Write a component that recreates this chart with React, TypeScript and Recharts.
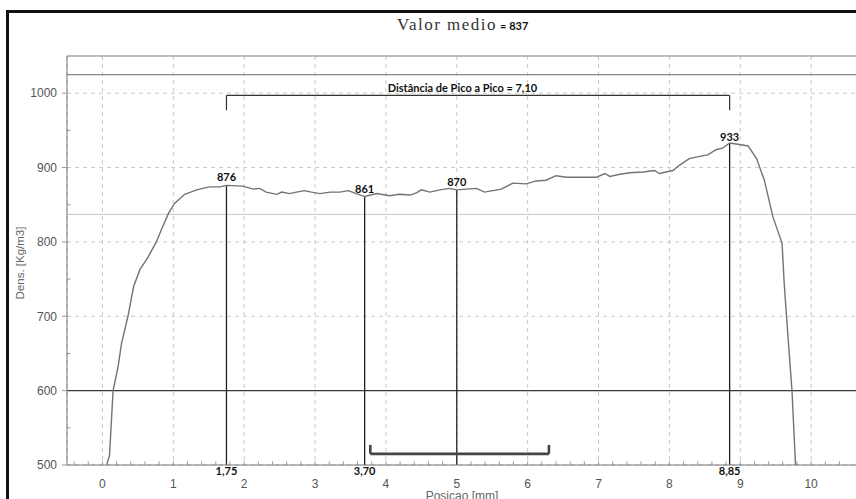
import { LineChart, Line, XAxis, YAxis, CartesianGrid, ReferenceLine, ReferenceDot } from 'recharts';

// density profile across the panel thickness
const POS = [
  0.06, 0.10, 0.15, 0.22, 0.27, 0.36, 0.44, 0.53, 0.64, 0.76, 0.83, 0.93, 1.02, 1.16, 1.33, 1.51, 1.66,
  1.75, 1.98, 2.13, 2.22, 2.31, 2.46, 2.53, 2.64, 2.74, 2.85, 2.95, 3.07, 3.21, 3.35, 3.47, 3.58,
  3.70, 3.87, 4.05, 4.19, 4.34, 4.43, 4.50, 4.62, 4.76, 4.90, 5.00, 5.14, 5.28, 5.39, 5.63, 5.79,
  5.98, 6.12, 6.26, 6.40, 6.55, 6.73, 6.97, 7.09, 7.16, 7.30, 7.44, 7.63, 7.79, 7.86, 8.05, 8.14,
  8.28, 8.43, 8.54, 8.66, 8.75, 8.85, 8.99, 9.11, 9.23, 9.34, 9.46, 9.59, 9.62, 9.67, 9.73, 9.78,
];
const DENS = [
  500, 513, 600, 632, 664, 700, 740, 763, 779, 800, 816, 838, 852, 864, 870, 874, 874,
  876, 875, 871, 872, 867, 864, 867, 865, 867, 869, 867, 865, 867, 867, 869, 865,
  861, 865, 862, 864, 863, 866, 870, 867, 870, 872, 870, 871, 872, 867, 871, 879,
  878, 882, 883, 889, 887, 887, 887, 892, 888, 891, 893, 894, 896, 892, 896, 903,
  912, 915, 917, 924, 926, 933, 931, 929, 912, 883, 834, 798, 744, 677, 600, 500,
];

const X_TICKS = [0, 1, 2, 3, 4, 5, 6, 7, 8, 9, 10];
const Y_TICKS = [500, 600, 700, 800, 900, 1000];
const X_MINOR = Array.from({ length: 55 }, (_, i) => Math.round((-0.4 + i * 0.2) * 10) / 10);
const Y_MINOR = [550, 650, 750, 850, 950];

const PEAK_POS = [1.75, 3.70, 5.00, 8.85];
const PEAK_VAL = [876, 861, 870, 933];
const PEAK_POS_LABEL = ['1,75', '3,70', '', '8,85'];

const MEAN = 837;
const PEAK_SPAN_LABEL = 'Distância de Pico a Pico = 7,10';
const SPAN_LEVEL = 997;
const SPAN_DROP = 977;
const LOW_BRACKET = [3.78, 6.30];
const LOW_LEVEL = 515;
const LOW_RISE = 527;

const data = POS.map((x, i) => ({ x, d: DENS[i] }));

const BOLD = { fontFamily: 'Lato, "Open Sans", sans-serif', fontWeight: 700, fill: '#111' };

export default function App() {
  return (
    <div style={{ position: 'fixed', left: 0, top: 0, width: 856, height: 499, overflow: 'hidden', background: '#fff', fontFamily: '"Liberation Sans", Arial, sans-serif' }}>
      {/* outer frame */}
      <div style={{ position: 'absolute', left: 6, top: 10, width: 900, height: 600, border: '3px solid #111' }} />

      <div style={{ position: 'absolute', left: 397, top: 15, fontFamily: '"Liberation Serif", serif', fontSize: 17, letterSpacing: 1.5, color: '#333', whiteSpace: 'nowrap' }}>
        Valor medio
        <span style={{ fontFamily: 'Lato, sans-serif', fontWeight: 700, fontSize: 11, letterSpacing: 0, color: '#111', marginLeft: 3 }}>= 837</span>
      </div>

      <div style={{ position: 'absolute', left: 20, top: 263, transform: 'translate(-50%, -50%) rotate(-90deg)', fontSize: 11.5, color: '#666', whiteSpace: 'nowrap' }}>
        Dens. [Kg/m3]
      </div>
      <div style={{ position: 'absolute', left: 462, top: 489, transform: 'translateX(-50%)', fontSize: 12, lineHeight: '14px', color: '#666', whiteSpace: 'nowrap' }}>
        Posicao [mm]
      </div>

      <div style={{ position: 'absolute', left: 0, top: 0 }}>
        <LineChart width={890} height={499} data={data} margin={{ top: 56, right: 8, left: 0, bottom: 0 }}>
          <CartesianGrid stroke="#c8c8c8" strokeDasharray="4 4" />
          <XAxis
            type="number" dataKey="x" domain={[-0.5, 11]} ticks={X_TICKS} allowDataOverflow
            height={34} tickLine={false} tickSize={6} tickMargin={8}
            axisLine={{ stroke: '#777' }} tick={{ fontSize: 12, fill: '#555' }}
          />
          <YAxis
            type="number" domain={[500, 1050]} ticks={Y_TICKS} allowDataOverflow
            width={67} tickSize={5} tickMargin={5}
            tickLine={{ stroke: '#999' }} axisLine={{ stroke: '#777' }} tick={{ fontSize: 12, fill: '#555' }}
          />

          <ReferenceLine y={1050} stroke="#888" strokeWidth={1.2} />
          <ReferenceLine y={1025} stroke="#888" strokeWidth={1.2} />
          <ReferenceLine y={600} stroke="#3a3a3a" strokeWidth={1.2} />
          <ReferenceLine y={MEAN} stroke="#c4c8d0" strokeWidth={1} />

          {X_MINOR.map(x => (
            <ReferenceLine key={'xm' + x} segment={[{ x, y: 500 }, { x, y: 505 }]} stroke="#999" />
          ))}
          {Y_MINOR.map(y => (
            <ReferenceLine key={'ym' + y} segment={[{ x: -0.5, y }, { x: -0.45, y }]} stroke="#999" />
          ))}

          {PEAK_POS.map((x, i) => (
            <ReferenceLine key={'pk' + x} segment={[{ x, y: 500 }, { x, y: PEAK_VAL[i] }]} stroke="#222" strokeWidth={1.3} />
          ))}

          {/* peak-to-peak bracket */}
          <ReferenceLine segment={[{ x: PEAK_POS[0], y: SPAN_LEVEL }, { x: PEAK_POS[3], y: SPAN_LEVEL }]} stroke="#333" strokeWidth={1.2} />
          <ReferenceLine segment={[{ x: PEAK_POS[0], y: SPAN_LEVEL }, { x: PEAK_POS[0], y: SPAN_DROP }]} stroke="#333" strokeWidth={1.2} />
          <ReferenceLine segment={[{ x: PEAK_POS[3], y: SPAN_LEVEL }, { x: PEAK_POS[3], y: SPAN_DROP }]} stroke="#333" strokeWidth={1.2} />
          <ReferenceDot x={5.08} y={SPAN_LEVEL} r={0} stroke="none"
            label={{ value: PEAK_SPAN_LABEL, position: 'top', offset: 3, fontSize: 11, ...BOLD }} />

          {/* lower bracket */}
          <ReferenceLine segment={[{ x: LOW_BRACKET[0], y: LOW_LEVEL }, { x: LOW_BRACKET[1], y: LOW_LEVEL }]} stroke="#444" strokeWidth={2.6} />
          <ReferenceLine segment={[{ x: LOW_BRACKET[0], y: LOW_LEVEL }, { x: LOW_BRACKET[0], y: LOW_RISE }]} stroke="#444" strokeWidth={2.6} />
          <ReferenceLine segment={[{ x: LOW_BRACKET[1], y: LOW_LEVEL }, { x: LOW_BRACKET[1], y: LOW_RISE }]} stroke="#444" strokeWidth={2.6} />

          <Line type="linear" dataKey="d" stroke="#737373" strokeWidth={1.4} dot={false} isAnimationActive={false} />

          {PEAK_POS.map((x, i) => (
            <ReferenceDot key={'pv' + x} x={x} y={PEAK_VAL[i]} r={0} stroke="none"
              label={{ value: String(PEAK_VAL[i]), position: 'top', offset: i === 3 ? 2 : 4, fontSize: 11, ...BOLD }} />
          ))}
          {PEAK_POS.map((x, i) => PEAK_POS_LABEL[i] ? (
            <ReferenceDot key={'pl' + x} x={x} y={500} r={0} stroke="none"
              label={{ value: PEAK_POS_LABEL[i], position: 'bottom', offset: 2, fontSize: 11, ...BOLD }} />
          ) : null)}
        </LineChart>
      </div>
    </div>
  );
}
